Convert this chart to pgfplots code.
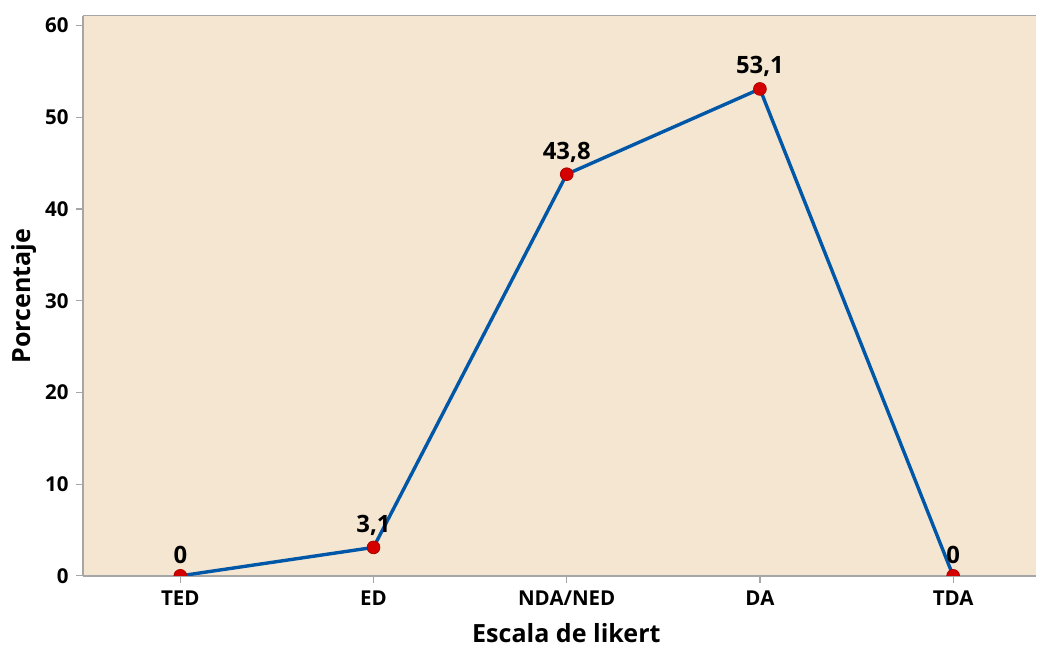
\documentclass[border=0pt]{standalone}
\usepackage{fontspec}
\setmainfont{Open Sans}
\usepackage{pgfplots}
\pgfplotsset{compat=1.18}

\definecolor{panel}{HTML}{F4E6D1}
\definecolor{spine}{HTML}{A6A6A6}
\definecolor{lineblue}{HTML}{0057A8}
\definecolor{markred}{HTML}{D40000}
\definecolor{markedge}{HTML}{B00000}

\begin{document}
\begin{tikzpicture}
\begin{axis}[
  at={(0,0)}, anchor=south west,
  scale only axis,
  width=477.5bp, height=280.65bp,
  xmin=-0.503, xmax=4.43,
  ymin=0, ymax=61.09,
  xtick={0,1,2,3,4},
  xticklabels={TED,ED,NDA/NED,DA,TDA},
  ytick={0,10,20,30,40,50,60},
  axis background/.style={fill=panel},
  axis x line*=bottom,
  axis y line*=left,
  axis line style={spine, line width=0.8pt},
  separate axis lines,
  x axis line style={-}, y axis line style={-},
  tick style={spine, line width=0.6pt},
  tick align=outside,
  major tick length=3.5bp,
  /pgf/number format/assume math mode=true,
  ticklabel style={font=\fontsize{10.3}{12}\selectfont\bfseries, text=black},
  yticklabel style={xshift=-0.3bp},
  xticklabel style={yshift=-0.3bp},
  xlabel={Escala de likert},
  ylabel={Porcentaje},
  label style={font=\fontsize{12.6}{15}\selectfont\bfseries},
  xlabel style={at={(axis description cs:0.507,-0.1016)}, anchor=center},
  ylabel style={at={(axis description cs:-0.062,0.499)}, anchor=center, rotate=0},
  clip mode=individual,
  clip marker paths=true,
  nodes near coords,
  point meta=explicit symbolic,
  every node near coord/.append style={font=\fontsize{12}{14}\selectfont\bfseries, text=black, anchor=south, yshift=2.5bp},
]
% top spine of the panel
\draw[spine, line width=0.8pt] (rel axis cs:0,1) -- (rel axis cs:1,1);
\addplot[color=lineblue, line width=1.7bp,
  mark=*, mark size=3.2bp,
  mark options={fill=markred, draw=markedge, line width=0.4bp}]
  coordinates {
    (0,0)    [0]
    (1,3.1)  [{3,1}]
    (2,43.8) [{43,8}]
    (3,53.1) [{53,1}]
    (4,0)    [0]
  };
\end{axis}
\useasboundingbox (-41.65bp,-34.5bp) rectangle (476.85bp,288.5bp);
\end{tikzpicture}
\end{document}
